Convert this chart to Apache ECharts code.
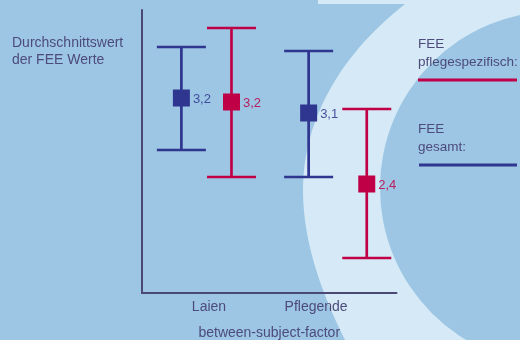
<!DOCTYPE html>
<html>
<head>
<meta charset="utf-8">
<script src="https://cdn.jsdelivr.net/npm/echarts@6/dist/echarts.min.js"></script>
<style>html,body{margin:0;padding:0;background:#9cc6e3;}#c{width:520px;height:340px;}</style>
</head>
<body>
<div id="c"></div>
<script>
// ---- data ----
const categories = ['Laien', 'Pflegende'];
const categoryTicks = [5, 13];              // x-axis positions of the category labels
const gesamtX = [2.94, 12.44];              // x positions of "FEE gesamt" bars
const pflegeX = [6.68, 16.78];              // x positions of "FEE pflegespezifisch" bars
const gesamtMean = [3.26, 3.11];
const gesamtLower = [2.74, 2.47];
const gesamtUpper = [3.77, 3.73];
const gesamtLabels = ['3,2', '3,1'];
const pflegeMean = [3.22, 2.40];
const pflegeLower = [2.47, 1.66];
const pflegeUpper = [3.96, 3.15];
const pflegeLabels = ['3,2', '2,4'];

const BLUE = '#2f3690';
const RED = '#bf0046';
const TEXT = '#4d4b7b';
const FONT = 'Liberation Sans, Arial, sans-serif';

function build(xs, mean, lo, hi) {
  return xs.map((x, i) => [x, mean[i], lo[i], hi[i]]);
}

// decorative background band (cubic bezier sampled into a polygon)
function cubic(p0, p1, p2, p3, n) {
  const pts = [];
  for (let k = 0; k <= n; k++) {
    const t = k / n, u = 1 - t;
    pts.push([
      u*u*u*p0[0] + 3*u*u*t*p1[0] + 3*u*t*t*p2[0] + t*t*t*p3[0],
      u*u*u*p0[1] + 3*u*u*t*p1[1] + 3*u*t*t*p2[1] + t*t*t*p3[1]
    ]);
  }
  return pts;
}
const bandPts = [[318, 0], [520, 0], [520, 340]]
  .concat(cubic([345, 340], [320, 290], [303, 240], [303, 190], 30))
  .concat(cubic([303, 190], [303, 120], [340, 55], [405, 4], 30))
  .concat([[318, 4]]);

function makeRender(color, labels) {
  return function (params, api) {
    const x = api.value(0), m = api.value(1), lo = api.value(2), hi = api.value(3);
    const pM = api.coord([x, m]), pLo = api.coord([x, lo]), pHi = api.coord([x, hi]);
    const hw = 24.5, s = 17, lw = 2.7;
    return {
      type: 'group',
      children: [
        { type: 'line', shape: { x1: pHi[0], y1: pHi[1], x2: pLo[0], y2: pLo[1] }, style: { stroke: color, lineWidth: lw } },
        { type: 'line', shape: { x1: pHi[0] - hw, y1: pHi[1], x2: pHi[0] + hw, y2: pHi[1] }, style: { stroke: color, lineWidth: lw } },
        { type: 'line', shape: { x1: pLo[0] - hw, y1: pLo[1], x2: pLo[0] + hw, y2: pLo[1] }, style: { stroke: color, lineWidth: lw } },
        { type: 'rect', shape: { x: pM[0] - s / 2, y: pM[1] - s / 2, width: s, height: s }, style: { fill: color } },
        { type: 'text', x: pM[0] + s / 2 + 3, y: pM[1] + 1, style: { text: labels[params.dataIndex], fill: color, opacity: 0.85, font: '13px ' + FONT, verticalAlign: 'middle', align: 'left' } }
      ]
    };
  };
}

const chart = echarts.init(document.getElementById('c'), null, { renderer: 'canvas' });
chart.setOption({
  backgroundColor: '#9cc6e3',
  animation: false,
  grid: { left: 142, top: 10, width: 254.5, height: 283, outerBoundsMode: 'none', containLabel: false },
  xAxis: {
    type: 'value', min: 0, max: 19, interval: 1,
    axisLine: { show: true, lineStyle: { color: '#4a4874', width: 2 } },
    axisTick: { show: false },
    splitLine: { show: false },
    axisLabel: {
      margin: 7, color: TEXT, fontSize: 14, fontFamily: FONT,
      formatter: v => { const i = categoryTicks.indexOf(v); return i >= 0 ? categories[i] : ''; }
    },
    name: 'between-subject-factor', nameLocation: 'middle', nameGap: 33,
    nameTextStyle: { color: TEXT, fontSize: 14, fontFamily: FONT }
  },
  yAxis: {
    type: 'value', min: 1.31, max: 4.14,
    axisLine: { show: true, lineStyle: { color: '#4a4874', width: 2 } },
    axisTick: { show: false }, axisLabel: { show: false }, splitLine: { show: false }
  },
  graphic: [
    { type: 'polygon', z: -10, silent: true, shape: { points: bandPts }, style: { fill: '#d6e9f6' } },
    { type: 'circle', z: -9, silent: true, shape: { cx: 557, cy: 188, r: 177 }, style: { fill: '#9cc6e3' } },
    { type: 'text', left: 12, top: 35, style: { text: 'Durchschnittswert\nder FEE Werte', fill: TEXT, font: '14px ' + FONT, lineHeight: 17 } },
    { type: 'text', left: 418, top: 35, style: { text: 'FEE\npflegespezifisch:', fill: TEXT, font: '13.5px ' + FONT, lineHeight: 18 } },
    { type: 'line', shape: { x1: 418, y1: 80, x2: 517, y2: 80 }, style: { stroke: RED, lineWidth: 3 } },
    { type: 'text', left: 418, top: 120, style: { text: 'FEE\ngesamt:', fill: TEXT, font: '13.5px ' + FONT, lineHeight: 18 } },
    { type: 'line', shape: { x1: 419, y1: 165, x2: 517, y2: 165 }, style: { stroke: BLUE, lineWidth: 3 } }
  ],
  series: [
    { type: 'custom', name: 'FEE gesamt', renderItem: makeRender(BLUE, gesamtLabels),
      encode: { x: 0, y: [1, 2, 3] }, data: build(gesamtX, gesamtMean, gesamtLower, gesamtUpper) },
    { type: 'custom', name: 'FEE pflegespezifisch', renderItem: makeRender(RED, pflegeLabels),
      encode: { x: 0, y: [1, 2, 3] }, data: build(pflegeX, pflegeMean, pflegeLower, pflegeUpper) }
  ]
});
</script>
</body>
</html>
